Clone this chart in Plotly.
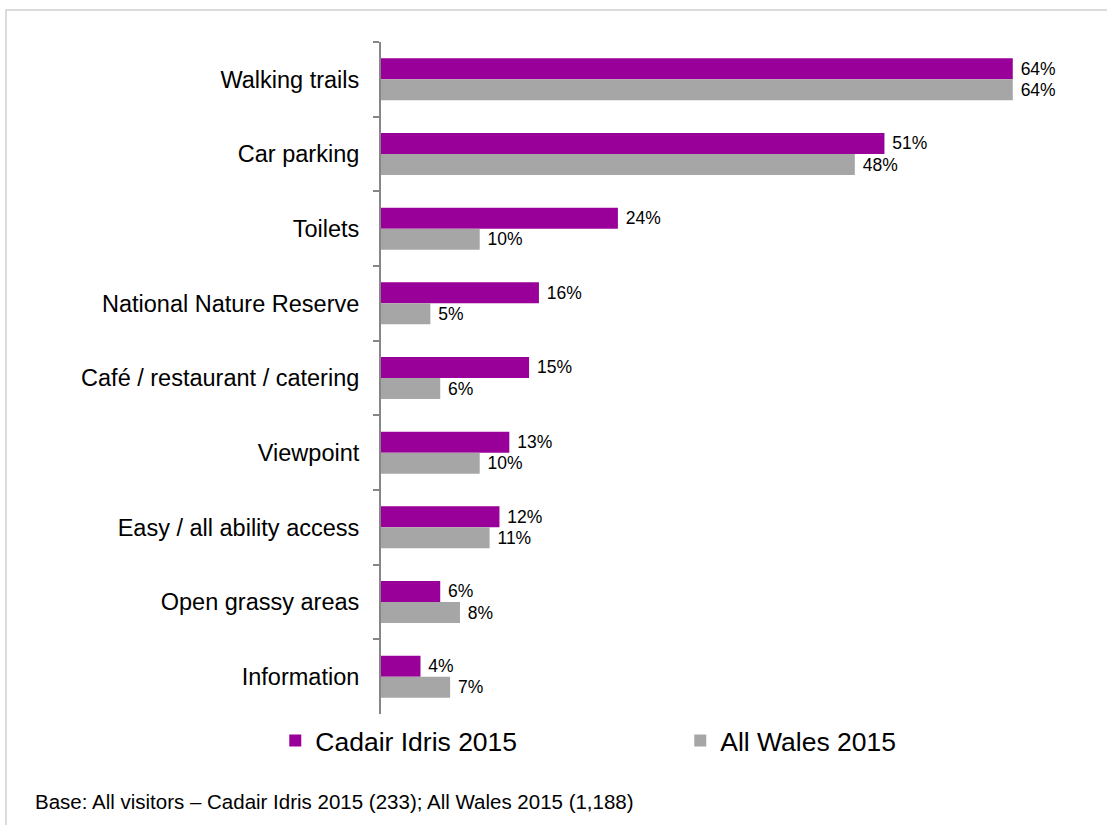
import plotly.graph_objects as go

# Facilities used during the visit (% of visitors)
categories = [
    "Walking trails",
    "Car parking",
    "Toilets",
    "National Nature Reserve",
    "Café / restaurant / catering",
    "Viewpoint",
    "Easy / all ability access",
    "Open grassy areas",
    "Information",
]
cadair_idris_2015 = [64, 51, 24, 16, 15, 13, 12, 6, 4]
all_wales_2015 = [64, 48, 10, 5, 6, 10, 11, 8, 7]

series_names = ["Cadair Idris 2015", "All Wales 2015"]
base_note = "Base: All visitors \u2013 Cadair Idris 2015 (233); All Wales 2015 (1,188)"

PURPLE = "#990099"
GREY = "#A6A6A6"
FONT = "Liberation Sans, Arial, sans-serif"

fig = go.Figure()
for name, values, colour in [
    (series_names[0], cadair_idris_2015, PURPLE),
    (series_names[1], all_wales_2015, GREY),
]:
    fig.add_trace(
        go.Bar(
            name=name,
            y=categories,
            x=values,
            orientation="h",
            marker=dict(color=colour, line=dict(width=0)),
            text=[f"{v}%" for v in values],
            texttemplate="\u00a0%{text}",
            textposition="outside",
            textfont=dict(family=FONT, size=17.5, color="#000000"),
            constraintext="none",
            cliponaxis=False,
        )
    )

# Outer frame of the chart area
fig.add_shape(
    type="rect",
    xref="paper", yref="paper",
    x0=-0.5427, x1=1.2, y0=-0.3, y1=1.0476,
    line=dict(color="#D0D0D0", width=1.5),
    fillcolor="rgba(0,0,0,0)",
    layer="below",
)

fig.add_annotation(
    text=base_note,
    xref="paper", yref="paper",
    x=-0.5036, y=-0.1295,
    xanchor="left", yanchor="middle",
    showarrow=False,
    font=dict(family=FONT, size=20.5, color="#000000"),
)

fig.update_layout(
    width=1107,
    height=825,
    margin=dict(l=381, r=35, t=42, b=111),
    paper_bgcolor="#FFFFFF",
    plot_bgcolor="#FFFFFF",
    barmode="group",
    bargap=0.437,
    bargroupgap=0,
    font=dict(family=FONT, color="#000000"),
    showlegend=True,
    legend=dict(
        orientation="h",
        x=-0.153, xanchor="left",
        y=-0.04, yanchor="middle",
        font=dict(family=FONT, size=26.5, color="#000000"),
        entrywidth=360,
        entrywidthmode="pixels",
        bgcolor="rgba(0,0,0,0)",
    ),
    xaxis=dict(
        range=[0, 70],
        visible=False,
        showgrid=False,
        zeroline=False,
    ),
    yaxis=dict(
        type="category",
        categoryorder="array",
        categoryarray=categories,
        autorange="reversed",
        showline=True,
        linecolor="#868686",
        linewidth=2,
        ticks="outside",
        tickson="boundaries",
        ticklen=6,
        tickwidth=1.5,
        tickcolor="#868686",
        ticklabelstandoff=15,
        tickfont=dict(family=FONT, size=23.5, color="#000000"),
        showgrid=False,
        zeroline=False,
    ),
)

fig.write_html("out.html")
